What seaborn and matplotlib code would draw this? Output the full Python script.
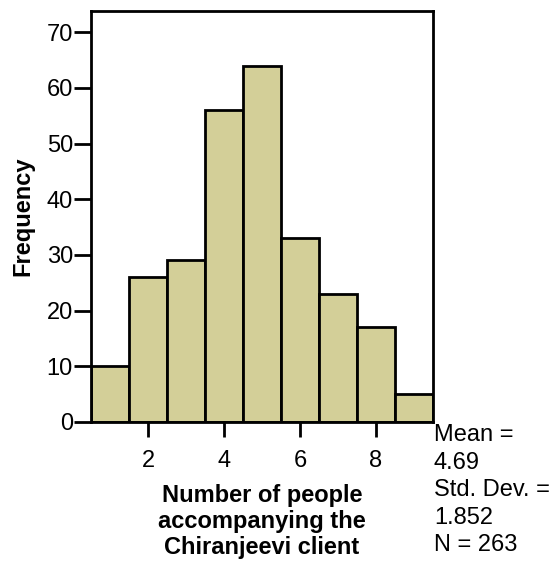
import matplotlib
matplotlib.use("Agg")
import matplotlib.pyplot as plt
import seaborn as sns
import numpy as np
import pandas as pd

# Data
people = [1, 2, 3, 4, 5, 6, 7, 8, 9]
frequency = [10, 26, 29, 56, 64, 33, 23, 17, 5]
x_ticks = [2, 4, 6, 8]
y_ticks = [0, 10, 20, 30, 40, 50, 60, 70]
stats_lines = ["Mean =", "4.69", "Std. Dev. =", "1.852", "N = 263"]

df = pd.DataFrame({"people": people, "frequency": frequency})

sns.set_style("white")
plt.rcParams['font.family'] = ['Liberation Sans', 'DejaVu Sans']
plt.rcParams['text.color'] = 'black'
plt.rcParams['axes.labelcolor'] = 'black'
plt.rcParams['xtick.color'] = 'black'
plt.rcParams['ytick.color'] = 'black'

fig = plt.figure(figsize=(5.55, 5.61), dpi=100)
ax = fig.add_axes([91/555, 1-422/561, (433-91)/555, (422-11)/561])

sns.histplot(data=df, x="people", weights="frequency", discrete=True,
             color="#d3cf98", alpha=1, edgecolor="black", linewidth=2.0, ax=ax)

ax.set_xlim(0.5, 9.5)
ax.set_ylim(0, 73.8)
ax.set_xticks(x_ticks)
ax.set_yticks(y_ticks)
for s in ax.spines.values():
    s.set_linewidth(2.0)
    s.set_color("black")
ax.tick_params(axis='y', direction='out', length=12, width=2.0, labelsize=17, pad=1, left=True)
ax.tick_params(axis='x', direction='out', length=11, width=2.0, labelsize=17, pad=9, bottom=True)

ax.set_ylabel("Frequency", fontsize=17, fontweight='bold', labelpad=9)
ax.set_xlabel("Number of people\naccompanying the\nChiranjeevi client",
              fontsize=17, fontweight='bold', linespacing=1.16, labelpad=9)

fig.text(434/555, 1-424/561, "\n".join(stats_lines), fontsize=17, va='top', ha='left',
         linespacing=1.33)

fig.savefig("out.png", dpi=100)
